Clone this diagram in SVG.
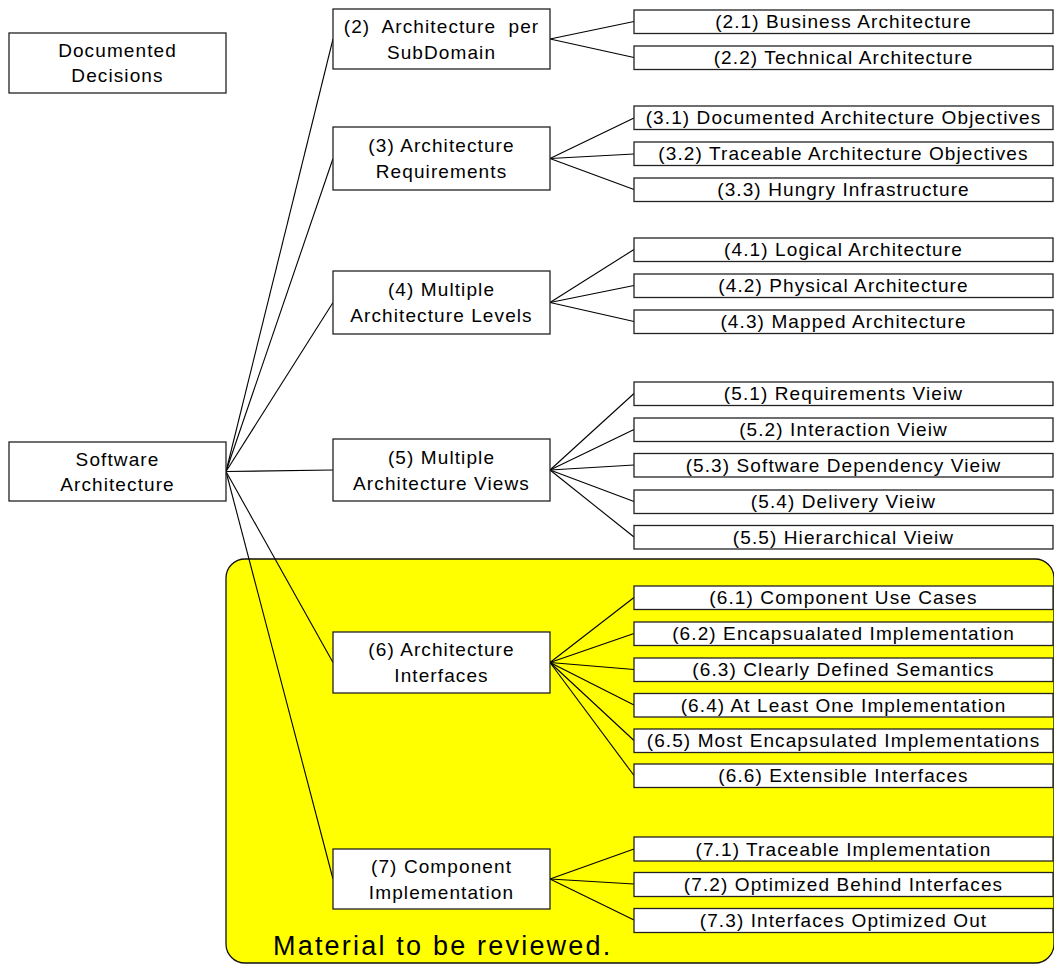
<svg xmlns="http://www.w3.org/2000/svg" width="1054" height="965" viewBox="0 0 1054 965">
<style>
.bx{fill:#fff;stroke:#222;stroke-width:1.3}
.t{font-family:"Liberation Sans",Arial,sans-serif;font-size:19px;letter-spacing:1.1px;text-anchor:middle;fill:#000}
.c{stroke:#000;stroke-width:1.1;fill:none}
.big{font-family:"Liberation Sans",Arial,sans-serif;font-size:27px;letter-spacing:2.2px;fill:#000}
</style>
<g id="review-area">
<rect x="226" y="559" width="828" height="404" rx="19" ry="19" fill="#ffff00" stroke="#111" stroke-width="1.3"/>
<text class="big" x="273" y="955">Material to be reviewed.</text>
</g>
<g id="connectors">
<line class="c" x1="226" y1="471.5" x2="333" y2="39"/>
<line class="c" x1="226" y1="471.5" x2="333" y2="158.5"/>
<line class="c" x1="226" y1="471.5" x2="333" y2="302.5"/>
<line class="c" x1="226" y1="471.5" x2="333" y2="470"/>
<line class="c" x1="226" y1="471.5" x2="333" y2="662.5"/>
<line class="c" x1="226" y1="471.5" x2="333" y2="879"/>
<line class="c" x1="550" y1="39" x2="634" y2="21.5"/>
<line class="c" x1="550" y1="39" x2="634" y2="57.5"/>
<line class="c" x1="550" y1="158.5" x2="634" y2="118"/>
<line class="c" x1="550" y1="158.5" x2="634" y2="154"/>
<line class="c" x1="550" y1="158.5" x2="634" y2="189.5"/>
<line class="c" x1="550" y1="302.5" x2="634" y2="249.5"/>
<line class="c" x1="550" y1="302.5" x2="634" y2="285.5"/>
<line class="c" x1="550" y1="302.5" x2="634" y2="321.5"/>
<line class="c" x1="550" y1="470" x2="634" y2="393.5"/>
<line class="c" x1="550" y1="470" x2="634" y2="429.5"/>
<line class="c" x1="550" y1="470" x2="634" y2="465"/>
<line class="c" x1="550" y1="470" x2="634" y2="501.5"/>
<line class="c" x1="550" y1="470" x2="634" y2="537"/>
<line class="c" x1="550" y1="662.5" x2="634" y2="597.5"/>
<line class="c" x1="550" y1="662.5" x2="634" y2="633.5"/>
<line class="c" x1="550" y1="662.5" x2="634" y2="669.5"/>
<line class="c" x1="550" y1="662.5" x2="634" y2="705"/>
<line class="c" x1="550" y1="662.5" x2="634" y2="740.5"/>
<line class="c" x1="550" y1="662.5" x2="634" y2="775.5"/>
<line class="c" x1="550" y1="879" x2="634" y2="849"/>
<line class="c" x1="550" y1="879" x2="634" y2="884"/>
<line class="c" x1="550" y1="879" x2="634" y2="920"/>
</g>
<g id="n-dd"><rect class="bx" x="9" y="33" width="217" height="60"/><text class="t" x="117.5" y="57">Documented</text><text class="t" x="117.5" y="82">Decisions</text></g>
<g id="n-sa"><rect class="bx" x="9" y="442" width="217" height="59"/><text class="t" x="117.5" y="465.5">Software</text><text class="t" x="117.5" y="490.5">Architecture</text></g>
<g id="n2"><rect class="bx" x="333" y="9" width="217" height="60"/><text class="t" x="441.5" y="33" word-spacing="6">(2) Architecture per</text><text class="t" x="441.5" y="58.5">SubDomain</text></g>
<g id="n3"><rect class="bx" x="333" y="127" width="217" height="63"/><text class="t" x="441.5" y="152">(3) Architecture</text><text class="t" x="441.5" y="178">Requirements</text></g>
<g id="n4"><rect class="bx" x="333" y="271" width="217" height="63"/><text class="t" x="441.5" y="296">(4) Multiple</text><text class="t" x="441.5" y="322">Architecture Levels</text></g>
<g id="n5"><rect class="bx" x="333" y="439" width="217" height="62"/><text class="t" x="441.5" y="464">(5) Multiple</text><text class="t" x="441.5" y="490">Architecture Views</text></g>
<g id="n6"><rect class="bx" x="333" y="632" width="217" height="61"/><text class="t" x="441.5" y="656">(6) Architecture</text><text class="t" x="441.5" y="682">Interfaces</text></g>
<g id="n7"><rect class="bx" x="333" y="849" width="217" height="60"/><text class="t" x="441.5" y="873">(7) Component</text><text class="t" x="441.5" y="899">Implementation</text></g>
<g id="n2-1"><rect class="bx" x="634" y="10" width="419" height="23.5"/><text class="t" x="843.5" y="28">(2.1) Business Architecture</text></g>
<g id="n2-2"><rect class="bx" x="634" y="46" width="419" height="23.5"/><text class="t" x="843.5" y="64">(2.2) Technical Architecture</text></g>
<g id="n3-1"><rect class="bx" x="634" y="106" width="419" height="23.5"/><text class="t" x="843.5" y="124">(3.1) Documented Architecture Objectives</text></g>
<g id="n3-2"><rect class="bx" x="634" y="142" width="419" height="23.5"/><text class="t" x="843.5" y="160">(3.2) Traceable Architecture Objectives</text></g>
<g id="n3-3"><rect class="bx" x="634" y="178" width="419" height="23.5"/><text class="t" x="843.5" y="196">(3.3) Hungry Infrastructure</text></g>
<g id="n4-1"><rect class="bx" x="634" y="238" width="419" height="23.5"/><text class="t" x="843.5" y="256">(4.1) Logical Architecture</text></g>
<g id="n4-2"><rect class="bx" x="634" y="274" width="419" height="23.5"/><text class="t" x="843.5" y="292">(4.2) Physical Architecture</text></g>
<g id="n4-3"><rect class="bx" x="634" y="310" width="419" height="23.5"/><text class="t" x="843.5" y="328">(4.3) Mapped Architecture</text></g>
<g id="n5-1"><rect class="bx" x="634" y="382" width="419" height="23.5"/><text class="t" x="843.5" y="400">(5.1) Requirements Vieiw</text></g>
<g id="n5-2"><rect class="bx" x="634" y="418" width="419" height="23.5"/><text class="t" x="843.5" y="436">(5.2) Interaction Vieiw</text></g>
<g id="n5-3"><rect class="bx" x="634" y="453.5" width="419" height="23.5"/><text class="t" x="843.5" y="471.5">(5.3) Software Dependency Vieiw</text></g>
<g id="n5-4"><rect class="bx" x="634" y="490" width="419" height="23.5"/><text class="t" x="843.5" y="508">(5.4) Delivery Vieiw</text></g>
<g id="n5-5"><rect class="bx" x="634" y="525.5" width="419" height="23.5"/><text class="t" x="843.5" y="543.5">(5.5) Hierarchical Vieiw</text></g>
<g id="n6-1"><rect class="bx" x="634" y="586" width="419" height="23.5"/><text class="t" x="843.5" y="604">(6.1) Component Use Cases</text></g>
<g id="n6-2"><rect class="bx" x="634" y="622" width="419" height="23.5"/><text class="t" x="843.5" y="640">(6.2) Encapsualated Implementation</text></g>
<g id="n6-3"><rect class="bx" x="634" y="658" width="419" height="23.5"/><text class="t" x="843.5" y="676">(6.3) Clearly Defined Semantics</text></g>
<g id="n6-4"><rect class="bx" x="634" y="693.5" width="419" height="23.5"/><text class="t" x="843.5" y="711.5">(6.4) At Least One Implementation</text></g>
<g id="n6-5"><rect class="bx" x="634" y="729" width="419" height="23.5"/><text class="t" x="843.5" y="747">(6.5) Most Encapsulated Implementations</text></g>
<g id="n6-6"><rect class="bx" x="634" y="764" width="419" height="23.5"/><text class="t" x="843.5" y="782">(6.6) Extensible Interfaces</text></g>
<g id="n7-1"><rect class="bx" x="634" y="837" width="419" height="24"/><text class="t" x="843.5" y="855.5">(7.1) Traceable Implementation</text></g>
<g id="n7-2"><rect class="bx" x="634" y="872.5" width="419" height="24"/><text class="t" x="843.5" y="891">(7.2) Optimized Behind Interfaces</text></g>
<g id="n7-3"><rect class="bx" x="634" y="908.5" width="419" height="24"/><text class="t" x="843.5" y="927">(7.3) Interfaces Optimized Out</text></g>
</svg>
